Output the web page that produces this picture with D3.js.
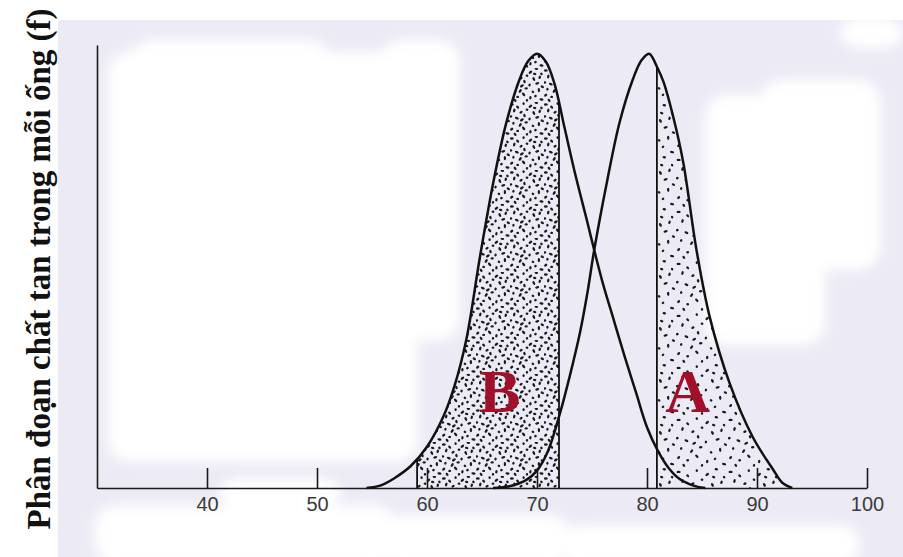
<!DOCTYPE html>
<html>
<head>
<meta charset="utf-8">
<script src="https://cdn.jsdelivr.net/npm/d3@7"></script>
<style>
  body { margin: 0; background: #fff; }
  svg { display: block; }
</style>
</head>
<body>
<div id="chart"></div>
<script>
// so thu tu ong (truc hoanh)
const tubeTicks = [40, 50, 60, 70, 80, 90, 100];

// duong phan bo chat B va chat A, doc tu hinh: [so ong, phan doan f]
const curveB = [
  [54.5, 0], [55.8, 0.006], [57.0, 0.022], [58.5, 0.05], [60.0, 0.095],
  [61.5, 0.165], [62.5, 0.235], [63.6, 0.345], [64.8, 0.53], [66.0, 0.70],
  [67.2, 0.84], [68.4, 0.94], [69.2, 0.983], [70.0, 1.0], [70.8, 0.982],
  [71.6, 0.93], [72.5, 0.83], [73.5, 0.72], [74.5, 0.62], [75.2, 0.548],
  [76.0, 0.47], [77.0, 0.385], [78.0, 0.30], [79.0, 0.22], [80.0, 0.14],
  [81.0, 0.085], [82.0, 0.045], [83.0, 0.02], [84.3, 0.005], [85.3, 0]
];
const curveA = [
  [66.0, 0], [67.5, 0.004], [69.0, 0.018], [70.0, 0.04], [71.0, 0.085],
  [72.1, 0.173], [73.0, 0.26], [73.9, 0.357], [74.6, 0.452], [75.2, 0.548],
  [76.4, 0.71], [77.5, 0.841], [78.7, 0.94], [79.5, 0.985], [80.2, 1.0],
  [80.9, 0.970], [81.5, 0.935], [82.4, 0.853], [83.3, 0.749], [84.5, 0.548],
  [85.7, 0.394], [87.5, 0.242], [89.6, 0.118], [91.5, 0.041], [92.3, 0.012],
  [93.2, 0]
];

// vung thu phan doan (cham) va cac vach cat
const collectB = [59.1, 72.0];
const collectA = [80.9, 92.0];
const cutLines = [
  { curve: 'B', tube: 59.1 },
  { curve: 'B', tube: 72.0 },
  { curve: 'A', tube: 80.9 }
];

const peakLabels = [
  { name: 'B', tube: 66.6, f: 0.175 },
  { name: 'A', tube: 83.7, f: 0.175 }
];

const yTitle = 'Phân đoạn chất tan trong mỗi ống (f)';

const width = 903, height = 557;

const svg = d3.select('#chart').append('svg')
  .attr('width', width)
  .attr('height', height);

const x = d3.scaleLinear().domain([30, 100]).range([97, 867]);
const y = d3.scaleLinear().domain([0, 1.02]).range([488, 45]);

const defs = svg.append('defs');

// nen giay scan
defs.append('filter').attr('id', 'soft')
  .attr('filterUnits', 'userSpaceOnUse')
  .attr('x', 0).attr('y', 0).attr('width', width).attr('height', height)
  .append('feGaussianBlur').attr('stdDeviation', 6);

svg.append('rect')
  .attr('width', width).attr('height', height)
  .attr('fill', '#fff');
svg.append('rect')
  .attr('x', 58).attr('y', 20)
  .attr('width', width - 58).attr('height', height - 20)
  .attr('fill', '#ecebf5');

const blobs = svg.append('g').attr('filter', 'url(#soft)').attr('fill', '#fff');
[
  [108, 52, 310, 410],
  [130, 40, 200, 60],
  [380, 40, 80, 300],
  [705, 95, 120, 250],
  [760, 80, 120, 190],
  [95, 505, 300, 60],
  [380, 515, 190, 50],
  [560, 525, 300, 40],
  [220, 478, 120, 30],
  [840, 18, 63, 30]
].forEach(([bx, by, bw, bh]) => {
  blobs.append('rect')
    .attr('x', bx).attr('y', by)
    .attr('width', bw).attr('height', bh)
    .attr('rx', 22);
});

// hoa van cham
const dotSpots = [
  [2, 3], [9, 6], [16, 2], [24, 5], [31, 1], [37, 7],
  [5, 10], [13, 12], [20, 9], [28, 13], [35, 11],
  [1, 17], [8, 19], [17, 16], [23, 20], [32, 18], [38, 22],
  [4, 25], [12, 27], [19, 24], [27, 28], [34, 26],
  [2, 32], [9, 34], [16, 31], [24, 35], [30, 33], [37, 37],
  [6, 38], [20, 38], [14, 21], [29, 7]
];

function makeStipple(id, scale) {
  const p = defs.append('pattern')
    .attr('id', id)
    .attr('patternUnits', 'userSpaceOnUse')
    .attr('width', 40).attr('height', 40)
    .attr('patternTransform', `scale(${scale})`);
  dotSpots.forEach(([px, py], i) => {
    p.append('ellipse')
      .attr('cx', px).attr('cy', py)
      .attr('rx', (2.1 - (i % 3) * 0.35) / scale)
      .attr('ry', 1.2 / scale)
      .attr('transform', `rotate(${(i * 47) % 180} ${px} ${py})`)
      .attr('fill', '#1a1a1a');
  });
}
makeStipple('stippleB', 0.85);
makeStipple('stippleA', 1.3);

const line = d3.line()
  .x(d => x(d[0]))
  .y(d => y(d[1]))
  .curve(d3.curveCatmullRom.alpha(0.5));

const area = d3.area()
  .x(d => x(d[0]))
  .y0(y(0))
  .y1(d => y(d[1]))
  .curve(d3.curveCatmullRom.alpha(0.5));

function stippleRegion(id, data, range, fillId) {
  defs.append('clipPath').attr('id', id)
    .append('path').attr('d', area(data));
  svg.append('g')
    .attr('clip-path', `url(#${id})`)
    .append('rect')
    .attr('x', x(range[0]))
    .attr('y', y(1.02))
    .attr('width', x(range[1]) - x(range[0]))
    .attr('height', y(0) - y(1.02))
    .attr('fill', `url(#${fillId})`);
}
stippleRegion('clipB', curveB, collectB, 'stippleB');
stippleRegion('clipA', curveA, collectA, 'stippleA');

// truc
const xAxis = d3.axisBottom(x)
  .tickValues(tubeTicks)
  .tickSize(-20)
  .tickSizeOuter(0)
  .tickPadding(9);

const xAxisG = svg.append('g')
  .attr('transform', `translate(0, ${y(0)})`)
  .style('color', '#1a1a1a')
  .call(xAxis);
xAxisG.selectAll('path, line').attr('stroke-width', 1.6);
xAxisG.selectAll('text')
  .attr('font-family', 'Liberation Sans, Arial, sans-serif')
  .attr('font-size', 20)
  .attr('fill', '#3a3a3a');

const yAxisG = svg.append('g')
  .attr('transform', `translate(${x(30)}, 0)`)
  .style('color', '#1a1a1a')
  .call(d3.axisLeft(y).tickValues([]).tickSizeOuter(0));
yAxisG.selectAll('path').attr('stroke-width', 1.6);

// duong cong
const curves = {};
[['B', curveB], ['A', curveA]].forEach(([name, data]) => {
  curves[name] = svg.append('path')
    .attr('d', line(data))
    .attr('fill', 'none')
    .attr('stroke', '#111')
    .attr('stroke-width', 2.5)
    .attr('stroke-linejoin', 'round');
});

// tim y cua duong cong tai mot toa do x
function yOnPath(node, px) {
  let lo = 0, hi = node.getTotalLength();
  for (let k = 0; k < 40; k++) {
    const mid = (lo + hi) / 2;
    if (node.getPointAtLength(mid).x < px) lo = mid; else hi = mid;
  }
  return node.getPointAtLength(lo).y;
}

svg.append('g').selectAll('line')
  .data(cutLines)
  .join('line')
  .attr('x1', d => x(d.tube))
  .attr('x2', d => x(d.tube))
  .attr('y1', y(0))
  .attr('y2', d => yOnPath(curves[d.curve].node(), x(d.tube)))
  .attr('stroke', '#111')
  .attr('stroke-width', 1.8);

svg.append('g').selectAll('text')
  .data(peakLabels)
  .join('text')
  .attr('x', d => x(d.tube))
  .attr('y', d => y(d.f))
  .attr('text-anchor', 'middle')
  .attr('font-family', 'Liberation Serif, Times New Roman, serif')
  .attr('font-weight', 'bold')
  .attr('font-size', 62)
  .attr('fill', '#a1102a')
  .text(d => d.name);

svg.append('text')
  .attr('transform', 'translate(50, 269) rotate(-90)')
  .attr('text-anchor', 'middle')
  .attr('font-family', 'Liberation Serif, Times New Roman, serif')
  .attr('font-weight', 'bold')
  .attr('font-size', 33)
  .attr('fill', '#111')
  .text(yTitle);
</script>
</body>
</html>
